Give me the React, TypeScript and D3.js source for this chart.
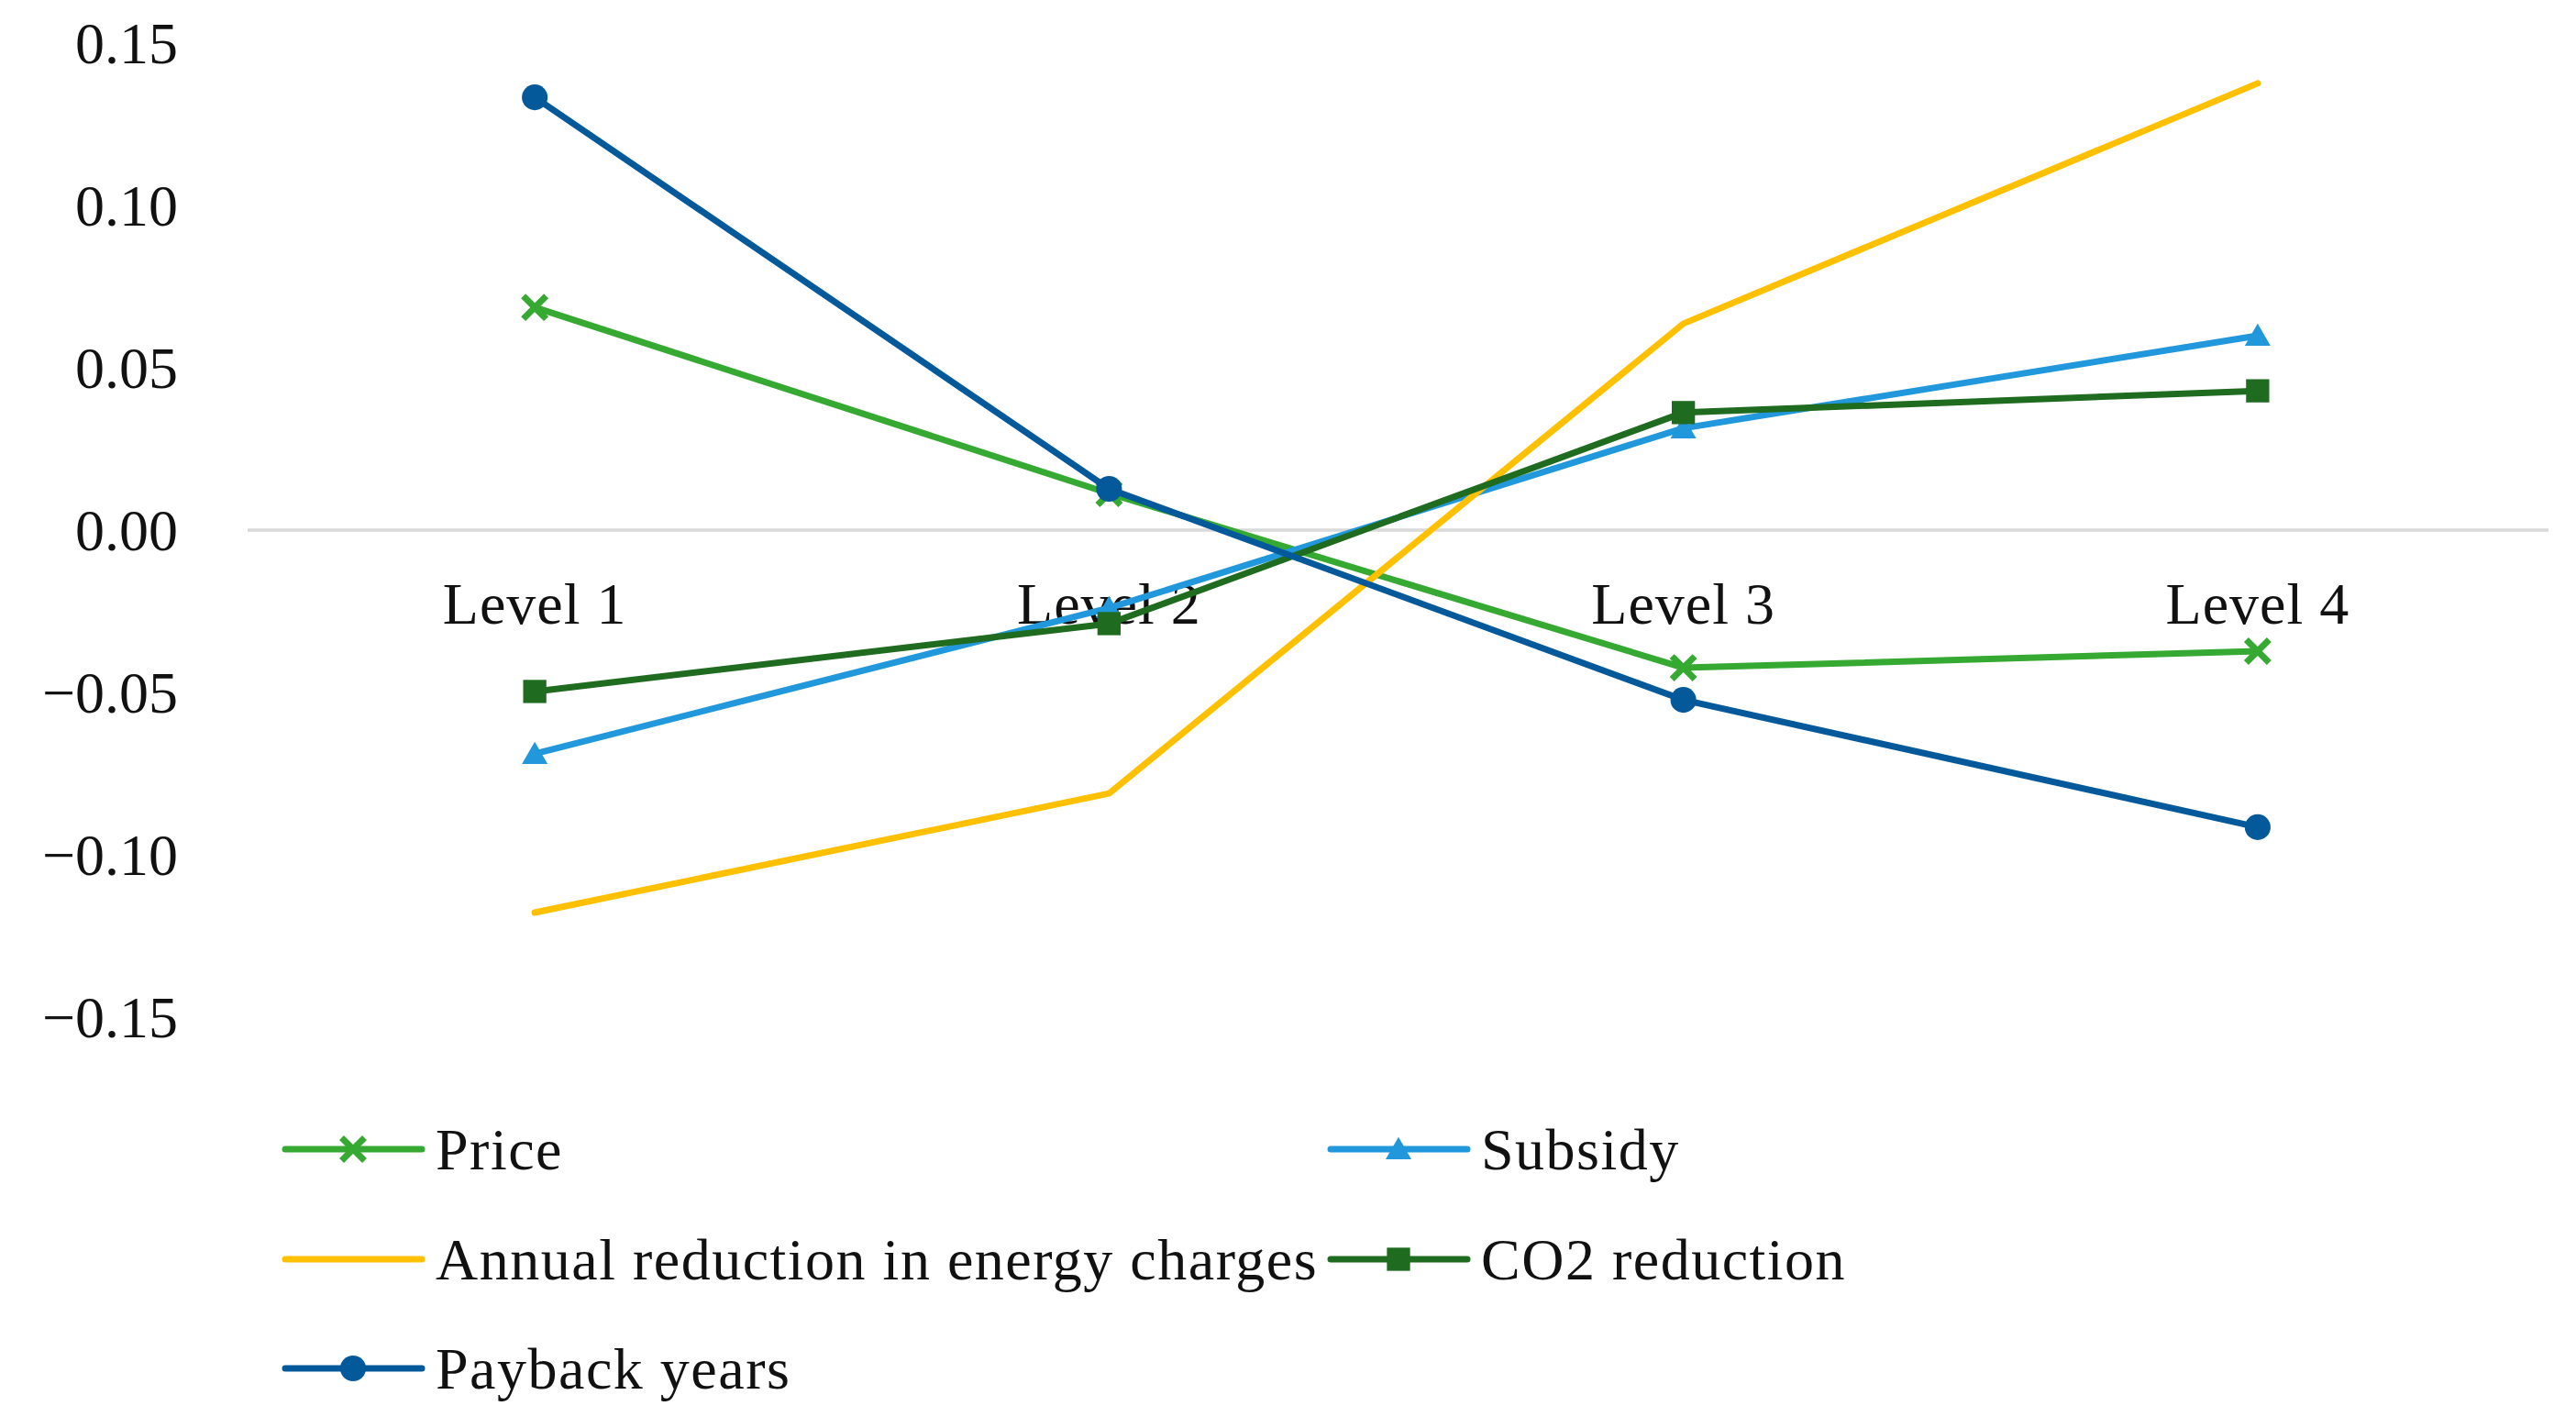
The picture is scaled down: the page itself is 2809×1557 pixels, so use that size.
import * as d3 from "d3";
import { useEffect } from "react";

const W = 2809;
const H = 1557;

const levels = ["Level 1", "Level 2", "Level 3", "Level 4"];
const yTicks = [0.15, 0.1, 0.05, 0, -0.05, -0.1, -0.15];

const price = [0.0686, 0.0113, -0.0424, -0.0373];
const subsidy = [-0.0689, -0.024, 0.0314, 0.0599];
const annualReduction = [-0.1178, -0.0811, 0.0636, 0.1376];
const co2Reduction = [-0.0497, -0.0288, 0.0362, 0.0429];
const paybackYears = [0.1333, 0.0127, -0.0523, -0.0915];

type Marker = "x" | "triangle" | "none" | "square" | "circle";

const series: { name: string; values: number[]; color: string; marker: Marker }[] = [
  { name: "Price", values: price, color: "#35a931", marker: "x" },
  { name: "Subsidy", values: subsidy, color: "#2197dc", marker: "triangle" },
  { name: "Annual reduction in energy charges", values: annualReduction, color: "#ffc000", marker: "none" },
  { name: "CO2 reduction", values: co2Reduction, color: "#1f6b1f", marker: "square" },
  { name: "Payback years", values: paybackYears, color: "#04599a", marker: "circle" },
];

// legend slots: [column x of line start, row center y]
const legendSlots = [
  [311, 1253],
  [1451, 1253],
  [311, 1373],
  [1451, 1373],
  [311, 1492],
];

const FONT = "'Liberation Serif', 'Times New Roman', serif";

const margin = { top: 47, left: 270, right: 34 };
const x = d3.scaleBand().domain(levels).range([margin.left, W - margin.right]);
const y = d3.scaleLinear().domain([-0.15, 0.15]).range([1109, margin.top]);

const fmt = d3.format(".2f");

function MarkerShape({ type, cx, cy, color }: { type: Marker; cx: number; cy: number; color: string }) {
  if (type === "none") return null;
  if (type === "x") {
    const s = 10;
    return (
      <path
        d={`M${cx - s},${cy - s}L${cx + s},${cy + s}M${cx - s},${cy + s}L${cx + s},${cy - s}`}
        stroke={color}
        strokeWidth={7}
        strokeLinecap="square"
        fill="none"
      />
    );
  }
  const sym =
    type === "triangle" ? d3.symbolTriangle : type === "square" ? d3.symbolSquare : d3.symbolCircle;
  const size = type === "triangle" ? 340 : type === "square" ? 640 : 620;
  const dy = type === "triangle" ? 3 : 0;
  return (
    <path
      d={d3.symbol(sym, size)() ?? ""}
      transform={`translate(${cx},${cy + dy})`}
      fill={color}
    />
  );
}

export default function App() {
  useEffect(() => {
    document.body.style.margin = "0";
  }, []);

  const cx = (l: string) => (x(l) ?? 0) + x.bandwidth() / 2;
  const line = d3
    .line<number>()
    .x((_, i) => cx(levels[i]))
    .y((d) => y(d));

  return (
    <svg width={W} height={H} style={{ display: "block", background: "#fff" }} fontFamily={FONT}>
      {/* y tick labels */}
      {yTicks.map((t) => (
        <text key={t} x={194} y={y(t)} dy="0.35em" textAnchor="end" fontSize={64} fill="#111">
          {fmt(t)}
        </text>
      ))}

      {/* zero line */}
      <line x1={margin.left} x2={W - 30} y1={y(0)} y2={y(0)} stroke="#d9d9d9" strokeWidth={3.5} />

      {/* category labels */}
      {levels.map((l) => (
        <text key={l} x={cx(l)} y={y(0) + 102} textAnchor="middle" fontSize={64} letterSpacing={1} fill="#111">
          {l}
        </text>
      ))}

      {/* series */}
      {series.map((s) => (
        <g key={s.name}>
          <path
            d={line(s.values) ?? ""}
            fill="none"
            stroke={s.color}
            strokeWidth={7}
            strokeLinejoin="round"
            strokeLinecap="round"
          />
          {s.values.map((v, i) => (
            <MarkerShape key={i} type={s.marker} cx={cx(levels[i])} cy={y(v)} color={s.color} />
          ))}
        </g>
      ))}

      {/* legend */}
      {series.map((s, i) => {
        const [lx, ly] = legendSlots[i];
        return (
          <g key={s.name}>
            <line x1={lx} x2={lx + 149} y1={ly} y2={ly} stroke={s.color} strokeWidth={7} strokeLinecap="round" />
            <MarkerShape type={s.marker} cx={lx + 74} cy={ly} color={s.color} />
            <text x={lx + 164} y={ly} dy="0.35em" fontSize={64} letterSpacing={1.5} fill="#111">
              {s.name}
            </text>
          </g>
        );
      })}
    </svg>
  );
}
